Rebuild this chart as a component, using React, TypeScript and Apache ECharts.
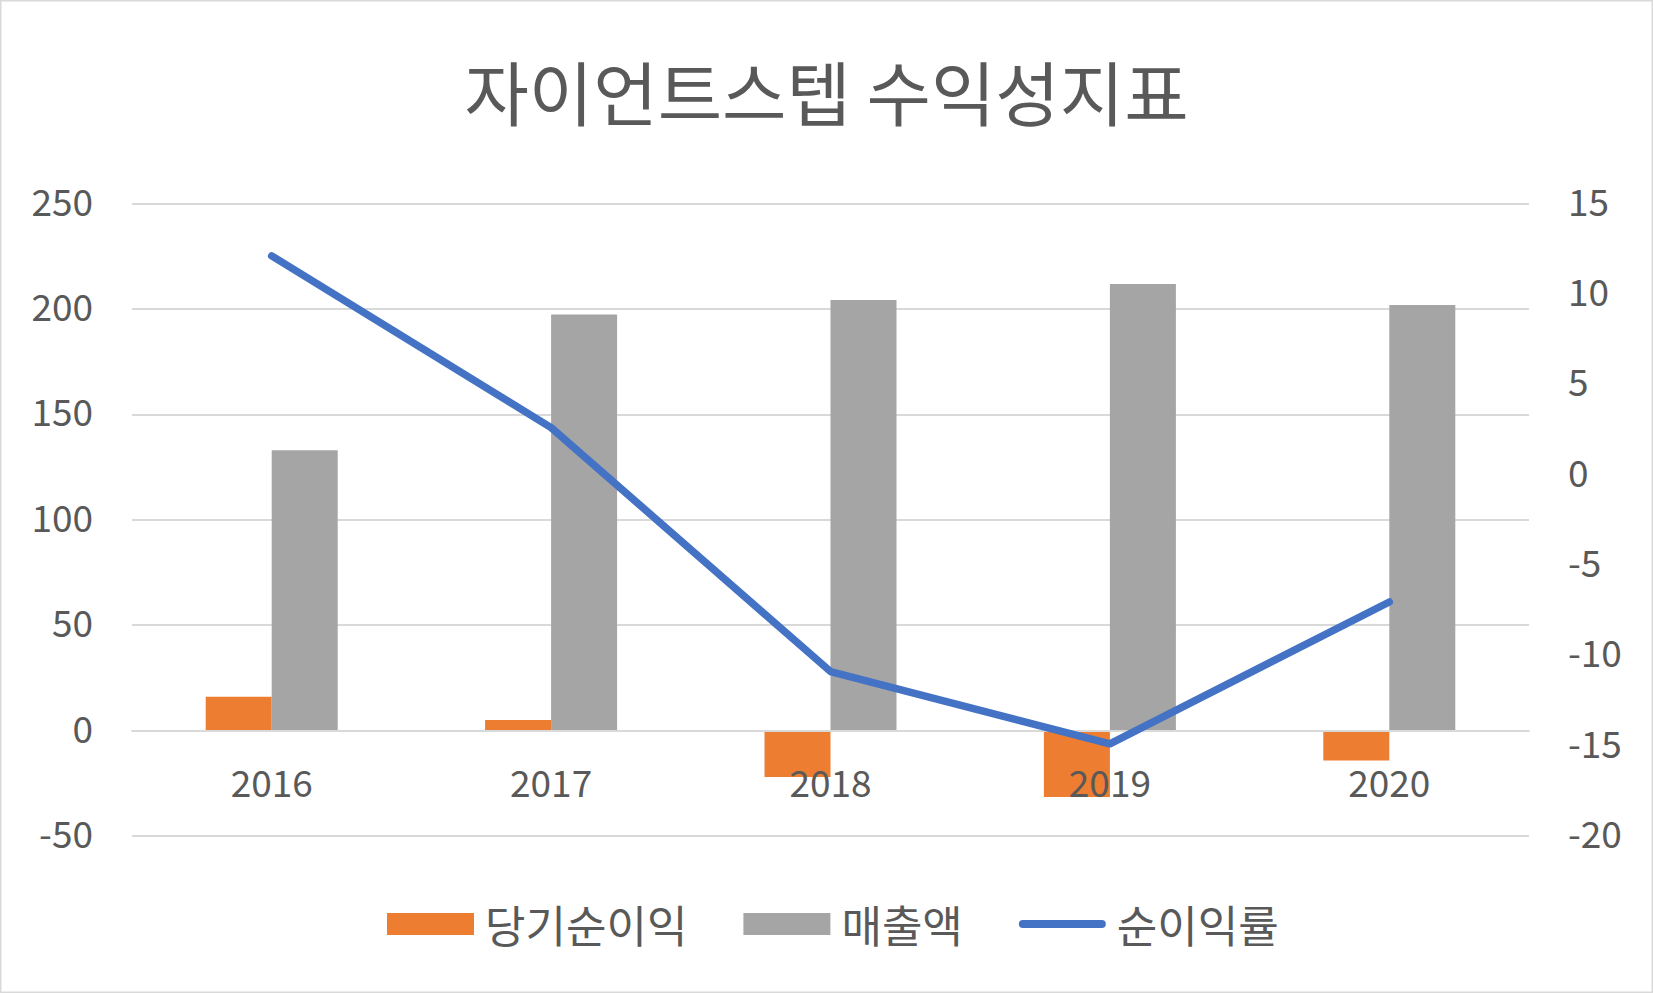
import React, { useEffect, useRef } from "react";
import * as echarts from "echarts";

const categories = ["2016", "2017", "2018", "2019", "2020"];
const netIncome = [16, 5, -22, -31.5, -14.2];
const revenue = [133, 197.4, 204.2, 211.8, 201.8];
const netMargin = [12.1, 2.6, -10.9, -14.9, -7.05];

const FONT = "'Noto Sans CJK KR', 'Noto Sans', sans-serif";
const TXT = "#595959";

export default function App() {
  const ref = useRef<HTMLDivElement>(null);
  useEffect(() => {
    if (!ref.current) return;
    const chart = echarts.init(ref.current, null, { renderer: "svg" });
    const yLabel = (margin: number) => ({
      color: TXT,
      fontSize: 37,
      fontFamily: FONT,
      margin,
      formatter: "{a|{value}}",
      rich: { a: { color: TXT, fontSize: 37, fontFamily: FONT, padding: [0, 0, 8, 0] } },
    });
    chart.setOption({
      animation: false,
      backgroundColor: "#ffffff",
      textStyle: { fontFamily: FONT, color: TXT },
      title: {
        text: "자이언트스텝 수익성지표",
        left: "center",
        top: 50,
        textStyle: { fontFamily: FONT, color: TXT, fontSize: 70, fontWeight: "normal" },
      },
      graphic: [
        {
          type: "rect",
          shape: { x: 0.75, y: 0.75, width: 1651.5, height: 991.5 },
          style: { fill: "none", stroke: "#d9d9d9", lineWidth: 1.5 },
          silent: true,
        },
      ],
      legend: {
        left: 387,
        top: 902,
        padding: 0,
        itemWidth: 87,
        itemHeight: 22,
        itemGap: 56,
        textStyle: { fontFamily: FONT, color: TXT, fontSize: 44, padding: [0, 0, 0, 6] },
        data: [
          { name: "당기순이익", icon: "rect" },
          { name: "매출액", icon: "rect" },
          {
            name: "순이익률",
            icon: "path://M4,0 L83,0 A4,4 0 0 1 83,8 L4,8 A4,4 0 0 1 4,0 Z",
            itemStyle: { color: "#4472C4", borderWidth: 0 },
          },
        ],
      },
      grid: { left: 132, right: 124, top: 203.5, bottom: 157, containLabel: false },
      xAxis: {
        type: "category",
        data: categories,
        z: 3,
        axisLine: { show: true, onZero: true, onZeroAxisIndex: 0, lineStyle: { color: "#d9d9d9", width: 2 } },
        axisTick: { show: false },
        axisLabel: { color: TXT, fontSize: 37, fontFamily: FONT, margin: -74 },
      },
      yAxis: [
        {
          type: "value",
          min: -50,
          max: 250,
          interval: 50,
          axisLine: { show: false },
          axisTick: { show: false },
          splitLine: { lineStyle: { color: "#d9d9d9", width: 2 } },
          axisLabel: yLabel(39),
        },
        {
          type: "value",
          min: -20,
          max: 15,
          interval: 5,
          axisLine: { show: false },
          axisTick: { show: false },
          splitLine: { show: false },
          axisLabel: yLabel(39),
        },
      ],
      series: [
        {
          name: "당기순이익",
          type: "bar",
          data: netIncome,
          barWidth: 66,
          barGap: "0%",
          itemStyle: { color: "#ED7D31" },
          z: 2,
        },
        {
          name: "매출액",
          type: "bar",
          data: revenue,
          barWidth: 66,
          barGap: "0%",
          itemStyle: { color: "#A5A5A5" },
          z: 2,
        },
        {
          name: "순이익률",
          type: "line",
          yAxisIndex: 1,
          data: netMargin,
          showSymbol: false,
          symbol: "none",
          color: "#4472C4",
          itemStyle: { color: "#4472C4" },
          lineStyle: { color: "#4472C4", width: 7.5, cap: "round", join: "round" },
          z: 5,
        },
      ],
    });
    return () => chart.dispose();
  }, []);
  return (
    <div
      ref={ref}
      style={{ position: "fixed", left: 0, top: 0, width: 1653, height: 993 }}
    />
  );
}
